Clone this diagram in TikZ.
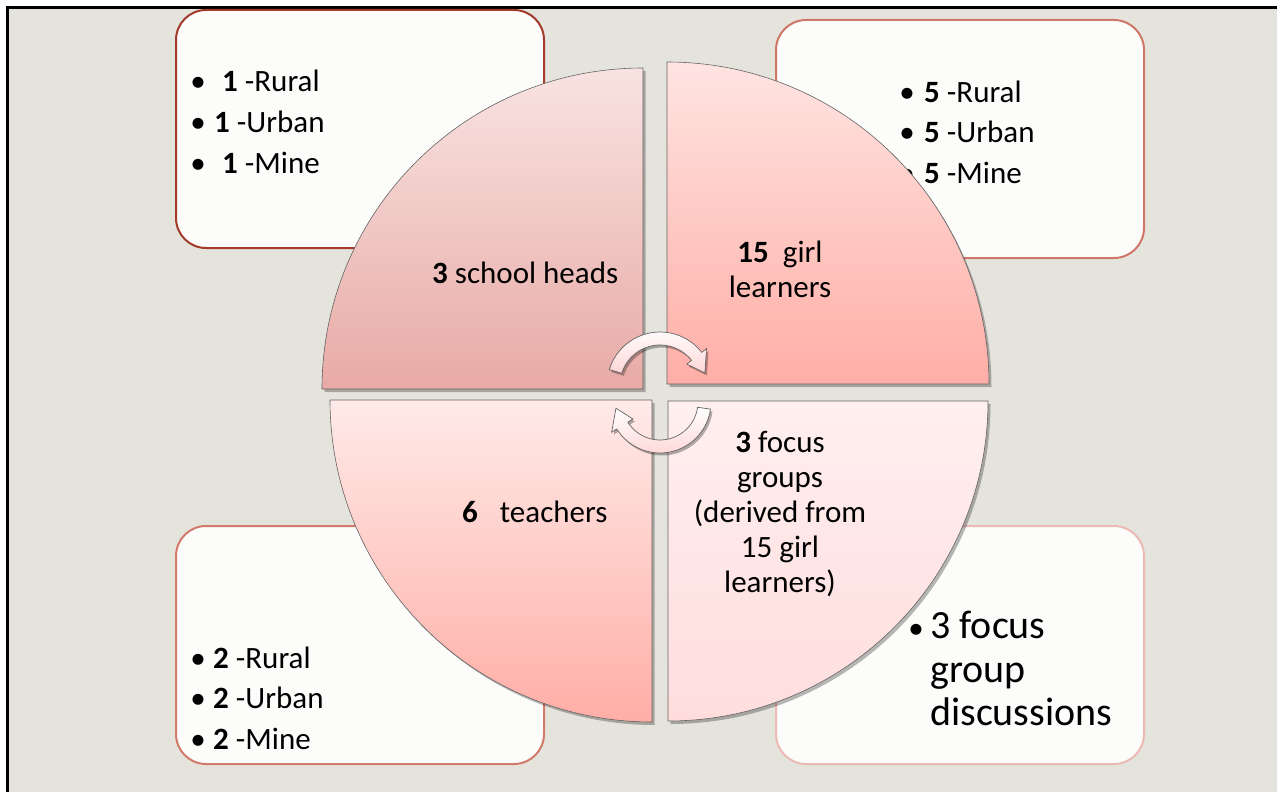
\documentclass[tikz,border=0pt]{standalone}
\usepackage{fontspec}
\setmainfont{Carlito}
\usetikzlibrary{calc}
\definecolor{bg}{RGB}{229,228,220}
\definecolor{boxfill}{RGB}{252,252,250}
\definecolor{bTL}{RGB}{163,58,44}
\definecolor{bTR}{RGB}{208,118,104}
\definecolor{bBL}{RGB}{212,122,108}
\definecolor{bBR}{RGB}{236,186,181}
\definecolor{qTLt}{RGB}{248,227,225}
\definecolor{qTLb}{RGB}{232,170,166}
\definecolor{qTRt}{RGB}{255,228,226}
\definecolor{qTRb}{RGB}{255,174,166}
\definecolor{qBLt}{RGB}{255,234,232}
\definecolor{qBLb}{RGB}{255,174,166}
\definecolor{qBRt}{RGB}{255,239,239}
\definecolor{qBRb}{RGB}{255,221,221}
\definecolor{arrowpink}{RGB}{255,214,214}
\definecolor{edgegray}{RGB}{100,100,100}
\begin{document}
\begin{tikzpicture}[x=1pt,y=-1pt,
  infobox/.style={rounded corners=30pt, fill=boxfill, line width=2pt, minimum width=368pt, minimum height=238pt, anchor=north west, inner sep=0pt},
  quad/.style={draw=edgegray, line width=0.6pt,
    preaction={fill=black, fill opacity=0.28, transform canvas={xshift=2.5pt,yshift=-3pt}}},
  cyclearrow/.style={draw=edgegray, line width=0.7pt, top color=white, bottom color=arrowpink,
    preaction={fill=black, fill opacity=0.3, transform canvas={xshift=2pt,yshift=-2.5pt}}},
  txt/.style={inner sep=0pt, font=\fontsize{31}{37}\selectfont},
  bigtxt/.style={inner sep=0pt, font=\fontsize{40}{44}\selectfont},
  bul/.style={inner sep=0pt, anchor=base, font=\fontsize{31}{37}\selectfont},
]
\useasboundingbox (0,0) rectangle (1277,792);
\fill[white] (0,0) rectangle (1277,792);
\fill[bg] (7,7) rectangle (1277,792);
\draw[line width=3pt] (7.5,792) -- (7.5,7.5) -- (1277,7.5);

% boxes
\node[infobox, draw=bTL] (tlbox) at (175,9) {};
\node[infobox, draw=bTR] (trbox) at (775,19) {};
\node[infobox, draw=bBL] (blbox) at (175,525) {};
\node[infobox, draw=bBR] (brbox) at (775,525) {};

% box texts
\node[bul] (tlb1) at (198,92) {•};
\node[bul] (tlb2) at (198,132) {•};
\node[bul] (tlb3) at (198,173) {•};
\node[txt, anchor=base west] (tlt1) at (222,92) {\textbf{1} -Rural};
\node[txt, anchor=base west] (tlt2) at (214,132) {\textbf{1} -Urban};
\node[txt, anchor=base west] (tlt3) at (222,173) {\textbf{1} -Mine};

\node[bul] (trb1) at (907,102) {•};
\node[bul] (trb2) at (907,142) {•};
\node[bul] (trb3) at (907,183) {•};
\node[txt, anchor=base west] (trt1) at (924,102) {\textbf{5} -Rural};
\node[txt, anchor=base west] (trt2) at (924,142) {\textbf{5} -Urban};
\node[txt, anchor=base west] (trt3) at (924,183) {\textbf{5} -Mine};

\node[bul] (blb1) at (198,668) {•};
\node[bul] (blb2) at (198,708) {•};
\node[bul] (blb3) at (198,749) {•};
\node[txt, anchor=base west] (blt1) at (213,668) {\textbf{2} -Rural};
\node[txt, anchor=base west] (blt2) at (213,708) {\textbf{2} -Urban};
\node[txt, anchor=base west] (blt3) at (213,749) {\textbf{2} -Mine};

\node[bul] (brb1) at (916,638) {•};
\node[bigtxt, anchor=base west] (brt1) at (930,638) {3 focus};
\node[bigtxt, anchor=base west] (brt2) at (930,682) {group};
\node[bigtxt, anchor=base west] (brt3) at (930,725) {discussions};

% quadrants
\path[quad, top color=qTLt, bottom color=qTLb]
  (643,389) -- (322,389) arc[start angle=180, end angle=270, radius=321] -- cycle;
\path[quad, top color=qTRt, bottom color=qTRb]
  (667,384) -- (667,62) arc[start angle=270, end angle=360, radius=322] -- cycle;
\path[quad, top color=qBLt, bottom color=qBLb]
  (652,400) -- (652,722) arc[start angle=90, end angle=180, radius=322] -- cycle;
\path[quad, top color=qBRt, bottom color=qBRb]
  (668,401) -- (988,401) arc[start angle=0, end angle=90, radius=320] -- cycle;

% quadrant texts
\node[txt, anchor=base west] (qtl) at (432,283) {\textbf{3} school heads};
\node[txt, anchor=base] (qtr1) at (780,262) {\textbf{15}\hspace{14pt}girl};
\node[txt, anchor=base] (qtr2) at (780,297) {learners};
\node[txt, anchor=base west] (qbl) at (462,522) {\textbf{6}\hspace{22pt}teachers};
\node[txt, anchor=base] (qbr1) at (780,452) {\textbf{3} focus};
\node[txt, anchor=base] (qbr2) at (780,487) {groups};
\node[txt, anchor=base] (qbr3) at (780,522) {(derived from};
\node[txt, anchor=base] (qbr4) at (780,557) {15 girl};
\node[txt, anchor=base] (qbr5) at (780,592) {learners)};

% cycle arrows
\coordinate (c1) at (660,385);
\coordinate (c2) at (660,402);
\path[cyclearrow]
  ($(c1)+(197:53)$) arc[start angle=197, end angle=322, radius=53]
  -- ($(c1)+(322:59)$) -- ($(c1)+(345:46.5)$) -- ($(c1)+(322:34)$)
  -- ($(c1)+(322:40)$) arc[start angle=322, end angle=197, radius=40] -- cycle;
\path[cyclearrow]
  ($(c2)+(8:51)$) arc[start angle=8, end angle=148, radius=51]
  -- ($(c2)+(148:57)$) -- ($(c2)+(172:44.5)$) -- ($(c2)+(148:32)$)
  -- ($(c2)+(148:38)$) arc[start angle=148, end angle=8, radius=38] -- cycle;
\end{tikzpicture}
\end{document}
